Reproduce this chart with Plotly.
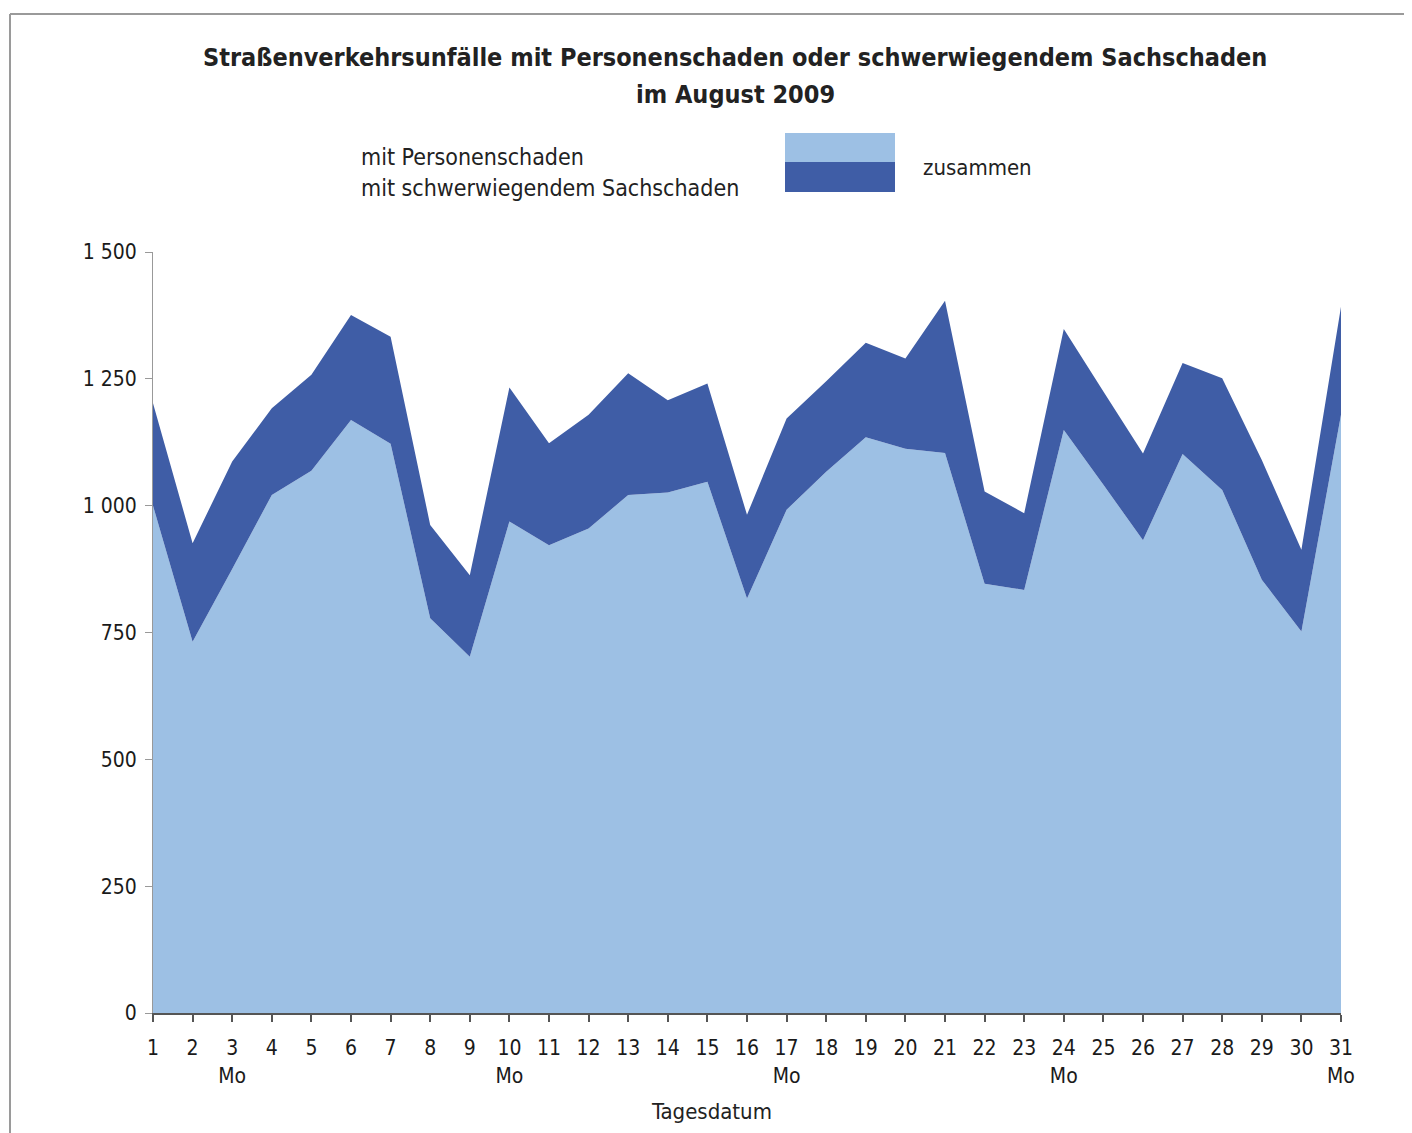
import plotly.graph_objects as go

days = list(range(1, 32))
personen = [1000, 732, 875, 1021, 1069, 1169, 1122, 778, 702, 969, 922, 955, 1021, 1026, 1047,
            817, 992, 1067, 1135, 1112, 1104, 846, 834, 1149, 1041, 932, 1102, 1031, 854, 752, 1179]
sachschaden = [202, 194, 212, 171, 189, 207, 211, 184, 161, 264, 201, 224, 240, 182, 194,
               165, 180, 178, 186, 178, 300, 182, 151, 199, 184, 171, 179, 220, 236, 161, 213]
mondays = [3, 10, 17, 24, 31]
x_ticktext = [f"{d}<br>Mo" if d in mondays else str(d) for d in days]
y_tickvals = [0, 250, 500, 750, 1000, 1250, 1500]
y_ticktext = ["0", "250", "500", "750", "1 000", "1 250", "1 500"]

LIGHT = "#9DC0E4"
DARK = "#3F5DA6"
FONT = "Liberation Sans Narrow, DejaVu Sans Condensed, sans-serif"

OFF = 8  # page body margin
W, H = 1412 - OFF, 1133 - OFF
L, R, T, B = 153, 1341, 252, 1013  # target pixel positions in the window


def px(x):
    return (x - L) / (R - L)


def py(y):
    return (B - y) / (B - T)


fig = go.Figure()
fig.add_trace(go.Scatter(x=days, y=personen, stackgroup="a", mode="none",
                         fillcolor=LIGHT, name="mit Personenschaden"))
fig.add_trace(go.Scatter(x=days, y=sachschaden, stackgroup="a", mode="none",
                         fillcolor=DARK, name="mit schwerwiegendem Sachschaden"))

shapes = [
    dict(type="line", xref="paper", yref="paper", x0=px(10), x1=px(1420), y0=py(14), y1=py(14),
         line=dict(color="#9a9a9a", width=2)),
    dict(type="line", xref="paper", yref="paper", x0=px(10), x1=px(10), y0=py(14), y1=py(1140),
         line=dict(color="#9a9a9a", width=2)),
    dict(type="rect", xref="paper", yref="paper", x0=px(785), x1=px(895), y0=py(162), y1=py(133),
         fillcolor=LIGHT, line=dict(width=0)),
    dict(type="rect", xref="paper", yref="paper", x0=px(785), x1=px(895), y0=py(192), y1=py(162),
         fillcolor=DARK, line=dict(width=0)),
]

annotations = [
    dict(xref="paper", yref="paper", x=px(735), y=py(57), xanchor="center", yanchor="middle",
         text="<b>Straßenverkehrsunfälle mit Personenschaden oder schwerwiegendem Sachschaden</b>",
         showarrow=False, font=dict(size=25, color="#222", family=FONT)),
    dict(xref="paper", yref="paper", x=px(735), y=py(95), xanchor="center", yanchor="middle",
         text="<b>im August 2009</b>",
         showarrow=False, font=dict(size=25, color="#222", family=FONT)),
    dict(xref="paper", yref="paper", x=px(359), y=py(157), xanchor="left", yanchor="middle",
         text="mit Personenschaden", showarrow=False, font=dict(size=23, color="#222", family=FONT)),
    dict(xref="paper", yref="paper", x=px(359), y=py(188), xanchor="left", yanchor="middle",
         text="mit schwerwiegendem Sachschaden", showarrow=False,
         font=dict(size=23, color="#222", family=FONT)),
    dict(xref="paper", yref="paper", x=px(921), y=py(167), xanchor="left", yanchor="middle",
         text="zusammen", showarrow=False, font=dict(size=22, color="#222", family=FONT)),
    dict(xref="paper", yref="paper", x=px(711), y=py(1111), xanchor="center", yanchor="middle",
         text="Tagesdatum", showarrow=False, font=dict(size=22, color="#222", family=FONT)),
]

fig.update_layout(
    width=W, height=H,
    margin=dict(l=L - OFF, r=W - (R - OFF), t=T - OFF, b=H - (B - OFF), pad=0),
    paper_bgcolor="white", plot_bgcolor="white",
    showlegend=False,
    shapes=shapes, annotations=annotations,
    font=dict(family=FONT, size=21, color="#222"),
    xaxis=dict(range=[1, 31], tickvals=days, ticktext=x_ticktext, showgrid=False, zeroline=False,
               showline=True, linecolor="#555", linewidth=2, ticks="outside", ticklen=7,
               tickcolor="#555", tickwidth=2, tickfont=dict(size=21, color="#1a1a1a"),
               ticklabelstandoff=8),
    yaxis=dict(range=[0, 1500], tickvals=y_tickvals, ticktext=y_ticktext, showgrid=False,
               zeroline=False, showline=True, linecolor="#999", linewidth=1, ticks="outside",
               ticklen=7, tickcolor="#999", tickfont=dict(size=21, color="#1a1a1a"),
               ticklabelstandoff=4),
)

fig.write_html("out.html")
